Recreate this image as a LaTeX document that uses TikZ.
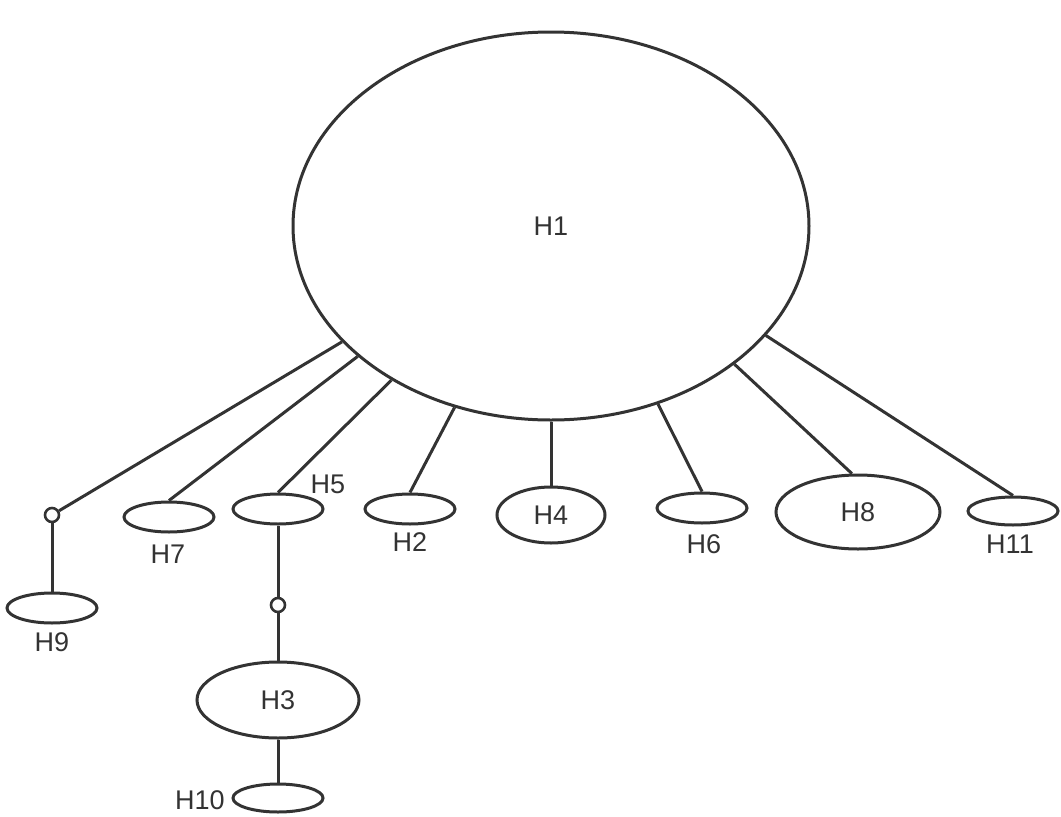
\documentclass[tikz,border=0pt]{standalone}
\usepackage{fontspec}
\setmainfont{Liberation Sans}
\usetikzlibrary{shapes.geometric}
\definecolor{ink}{HTML}{333333}
\begin{document}
\begin{tikzpicture}[x=1pt,y=-1pt,
  every node/.style={font=\fontsize{27}{32}\selectfont, text=ink},
  hnode/.style={ellipse, draw=ink, line width=3pt, inner sep=0pt, fill=white},
  small/.style={hnode, minimum width=90pt, minimum height=30pt},
  joint/.style={circle, draw=ink, line width=2.6pt, fill=white, inner sep=0pt, minimum size=14pt},
  link/.style={draw=ink, line width=3pt},
  lab/.style={inner sep=0pt}]
\useasboundingbox (0,0) rectangle (1061,817);
% main
\node[hnode, minimum width=516pt, minimum height=388pt] (H1) at (551,226) {H1};
% children
\node[small] (H9) at (52,608) {};
\node[lab] (l9) at (52,642) {H9};
\node[joint] (c9) at (52,515) {};
\node[small] (H7) at (169,517) {};
\node[lab] (l7) at (168,554) {H7};
\node[small] (H5) at (278,509) {};
\node[lab] (l5) at (328,484) {H5};
\node[small] (H2) at (410,509) {};
\node[lab] (l2) at (410,542) {H2};
\node[joint] (c5) at (278,605) {};
\node[hnode, minimum width=162pt, minimum height=76pt] (H3) at (278,700) {H3};
\node[small, minimum height=28pt] (H10) at (278,798) {};
\node[lab] (l10) at (200,800) {H10};
\node[hnode, minimum width=108pt, minimum height=56pt] (H4) at (551,515) {H4};
\node[small] (H6) at (702,508) {};
\node[lab] (l6) at (704,544) {H6};
\node[hnode, minimum width=164pt, minimum height=74pt] (H8) at (858,512) {H8};
\node[small, minimum height=28pt] (H11) at (1013,511) {};
\node[lab] (l11) at (1010,544) {H11};
% connectors
\draw[link] (H1.209) -- (c9);
\draw[link] (c9) -- (H9);
\draw[link] (H1.214) -- (H7.north);
\draw[link] (H1.224) -- (H5.north);
\draw[link] (H1.242) -- (H2.north);
\draw[link] (H1.270) -- (H4.north);
\draw[link] (H1.301) -- (H6.north);
\draw[link] (H1.323) -- (H8.99);
\draw[link] (H1.333) -- (H11.north);
\draw[link] (H5) -- (c5);
\draw[link] (c5) -- (H3);
\draw[link] (H3) -- (H10);
\end{tikzpicture}
\end{document}
